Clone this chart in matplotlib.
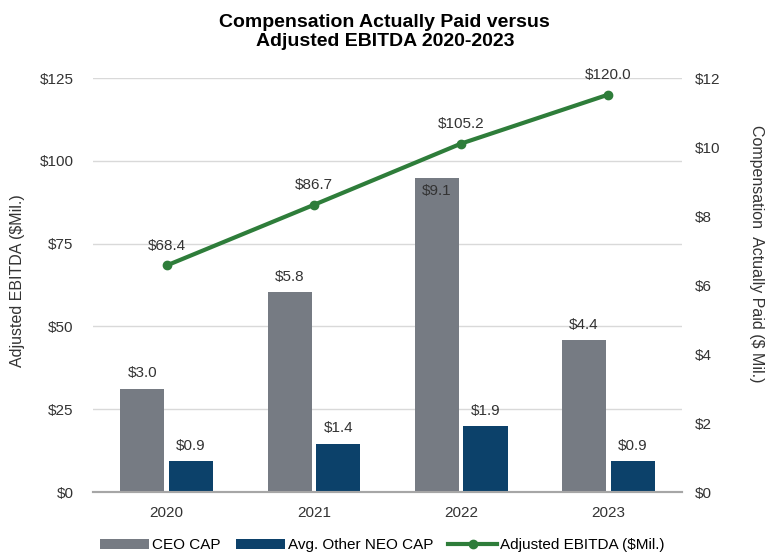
import matplotlib.pyplot as plt
import numpy as np

plt.rcParams['font.family'] = ['Liberation Sans', 'DejaVu Sans']

years = ['2020', '2021', '2022', '2023']
ceo_cap = [3.0, 5.8, 9.1, 4.4]
neo_cap = [0.9, 1.4, 1.9, 0.9]
ebitda = [68.4, 86.7, 105.2, 120.0]

grey = '#767B83'
navy = '#0C416A'
green = '#2E7D3A'
txt = '#333333'

x = np.arange(len(years))
w = 0.3

fig = plt.figure(figsize=(7.65, 5.56), dpi=100)
ax = fig.add_axes([0.1216, 0.1151, 0.7699, 0.7446])
ax2 = ax.twinx()

# line on left axis (EBITDA)
ax.plot(x, ebitda, color=green, lw=3, marker='o', ms=6, label='Adjusted EBITDA ($Mil.)')
for xi, v in zip(x, ebitda):
    ax.annotate(f'${v:.1f}', (xi, v), xytext=(0, 9), textcoords='offset points',
                ha='center', va='bottom', fontsize=11, color=txt)
ax.set_ylim(0, 125)
ax.set_yticks(np.arange(0, 126, 25))
ax.set_yticklabels([f'${t}' for t in range(0, 126, 25)])
ax.set_xlim(-0.5, 3.5)
ax.set_xticks(x)
ax.set_xticklabels(years)
ax.grid(axis='y', color='#D9D9D9', lw=1)
ax.set_axisbelow(True)
ax.set_ylabel('Adjusted EBITDA ($Mil.)', fontsize=11.5, color=txt)
ax.yaxis.set_label_coords(-0.115, 0.51)

# bars on right axis (CAP)
b1 = ax2.bar(x - 0.165, ceo_cap, w, color=grey, label='CEO CAP')
b2 = ax2.bar(x + 0.165, neo_cap, w, color=navy, label='Avg. Other NEO CAP')
# the 2022 CEO label sits inside the bar, just under its top
for i, (xi, v) in enumerate(zip(x, ceo_cap)):
    if i == 2:
        ax2.annotate(f'${v:.1f}', (xi - 0.165, v), xytext=(0, -4), textcoords='offset points',
                     ha='center', va='top', fontsize=11, color=txt)
    else:
        ax2.annotate(f'${v:.1f}', (xi - 0.165, v), xytext=(0, 6), textcoords='offset points',
                     ha='center', va='bottom', fontsize=11, color=txt)
for xi, v in zip(x, neo_cap):
    ax2.annotate(f'${v:.1f}', (xi + 0.165, v), xytext=(0, 6), textcoords='offset points',
                 ha='center', va='bottom', fontsize=11, color=txt)
ax2.set_ylim(0, 12)
ax2.set_yticks(np.arange(0, 13, 2))
ax2.set_yticklabels([f'${t}' for t in range(0, 13, 2)])
ax2.set_ylabel('Compensation  Actually Paid ($ Mil.)', fontsize=11.5, color=txt,
               rotation=270, va='center')
ax2.yaxis.set_label_coords(1.127, 0.575)

for a in (ax, ax2):
    for s in ['top', 'left', 'right']:
        a.spines[s].set_visible(False)
    a.spines['bottom'].set_color('#A6A6A6')
    a.spines['bottom'].set_linewidth(1.5)
    a.tick_params(length=0, labelsize=11, colors=txt)
ax.tick_params(axis='y', pad=14)
ax2.tick_params(axis='y', pad=9)
ax.tick_params(axis='x', pad=10)

fig.suptitle('Compensation Actually Paid versus\nAdjusted EBITDA 2020-2023',
             fontsize=14, fontweight='bold', x=0.503, y=0.975, linespacing=1.2)

handles = [b1, b2, ax.lines[0]]
fig.legend(handles, [h.get_label() for h in handles], loc='lower center',
           bbox_to_anchor=(0.5, -0.018), ncol=3, frameon=False, fontsize=11,
           handlelength=3.2, handletextpad=0.2, columnspacing=1.0)

fig.savefig('out.png', dpi=100)
